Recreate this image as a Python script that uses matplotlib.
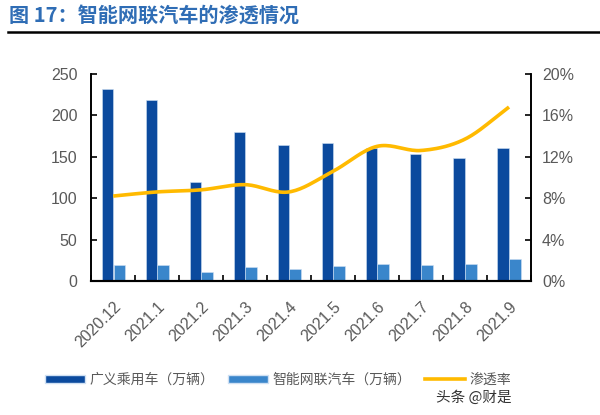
import numpy as np
import matplotlib
matplotlib.use("Agg")
import matplotlib.pyplot as plt
from matplotlib.lines import Line2D
from matplotlib.patches import Patch

plt.rcParams['font.family'] = ['Liberation Sans', 'Noto Sans CJK SC', 'DejaVu Sans']

categories = ["2020.12", "2021.1", "2021.2", "2021.3", "2021.4", "2021.5",
              "2021.6", "2021.7", "2021.8", "2021.9"]
passenger = [232, 219, 120, 180, 164, 166, 161, 153, 148, 161]
icv = [19, 19, 11, 17, 14, 18, 21, 19, 21, 27]
penetration = [8.2, 8.6, 8.8, 9.3, 8.6, 10.6, 13.0, 12.6, 13.7, 16.8]

dark = "#0b4a9e"
light = "#3a86cb"
yellow = "#ffba00"
gray = "#595959"

fig = plt.figure(figsize=(6.0, 4.15), dpi=100)
ax = fig.add_axes([0.152, 0.323, 0.733, 0.499])
ax2 = ax.twinx()

x = np.arange(len(categories))
w = 0.255
ax.bar(x - 0.135, passenger, w, color=dark, edgecolor="#cfe0f3", linewidth=0.4, zorder=2)
ax.bar(x + 0.135, icv, w, color=light, edgecolor="#cfe0f3", linewidth=0.4, zorder=2)

# smoothed line (Catmull-Rom through data points)
def catmull(xs, ys, n=20):
    xs = np.asarray(xs, float); ys = np.asarray(ys, float)
    px = np.concatenate([[2*xs[0]-xs[1]], xs, [2*xs[-1]-xs[-2]]])
    py = np.concatenate([[2*ys[0]-ys[1]], ys, [2*ys[-1]-ys[-2]]])
    ox, oy = [], []
    for i in range(1, len(px)-2):
        t = np.linspace(0, 1, n, endpoint=False)
        for arr, out in ((px, ox), (py, oy)):
            p0, p1, p2, p3 = arr[i-1], arr[i], arr[i+1], arr[i+2]
            out.extend(0.5*((2*p1) + (-p0+p2)*t + (2*p0-5*p1+4*p2-p3)*t**2 + (-p0+3*p1-3*p2+p3)*t**3))
    ox.append(xs[-1]); oy.append(ys[-1])
    return np.array(ox), np.array(oy)

sx, sy = catmull(x, penetration)
ax2.plot(sx, sy, color=yellow, linewidth=2.6, solid_capstyle='butt', zorder=3)

ax.set_xlim(-0.5, len(categories) - 0.5)
ax.set_ylim(0, 250)
ax.set_yticks([0, 50, 100, 150, 200, 250])
ax2.set_ylim(0, 20)
ax2.set_yticks([0, 4, 8, 12, 16, 20])
ax2.set_yticklabels([f"{v}%" for v in [0, 4, 8, 12, 16, 20]])

ax.set_xticks(x)
ax.set_xticklabels(categories, rotation=45, ha='right', rotation_mode='anchor')
ax.set_xticks(np.arange(-0.5, len(categories)), minor=True)
ax.tick_params(axis='x', which='major', length=0, labelsize=11.5, labelcolor=gray, pad=13)
ax.tick_params(axis='x', which='minor', length=4, direction='in', width=1.2, color='black')
ax.tick_params(axis='y', length=4, direction='in', width=1.2, labelsize=11.5, labelcolor=gray, pad=10)
ax2.tick_params(axis='y', length=4, direction='in', width=1.2, labelsize=11.5, labelcolor=gray, pad=8)

for a in (ax, ax2):
    a.spines['top'].set_visible(False)
    a.spines['left'].set_linewidth(1.2)
    a.spines['right'].set_linewidth(1.2)
    a.spines['bottom'].set_linewidth(1.5)
    a.set_facecolor('none')
ax.set_zorder(ax2.get_zorder() - 1)
ax2.patch.set_visible(False)

# Title and rule
fig.text(0.015, 0.962, "图 17：智能网联汽车的渗透情况", fontsize=14.5, fontweight='bold',
         color="#2f6db5", va='center', ha='left',
         family=['Noto Sans CJK SC', 'DejaVu Sans'])
fig.add_artist(Line2D([0.013, 1.0], [0.923, 0.923], color='black', linewidth=1.8))

handles = [Patch(facecolor=dark, edgecolor='#cfe0f3'),
           Patch(facecolor=light, edgecolor='#cfe0f3'),
           Line2D([0], [0], color=yellow, linewidth=2.6)]
labels = ["广义乘用车（万辆）", "智能网联汽车（万辆）", "渗透率"]
leg = fig.legend(handles, labels, loc='center', bbox_to_anchor=(0.463, 0.085), ncol=3,
                 frameon=False, handlelength=2.9, handleheight=0.55,
                 columnspacing=1.0, handletextpad=0.3,
                 prop={'family': ['Noto Sans CJK SC', 'DejaVu Sans'], 'size': 10})
for t in leg.get_texts():
    t.set_color(gray)

fig.text(0.853, 0.043, "头条 @财是", fontsize=10.5, color="#333333", ha='right', va='center',
         family=['Noto Sans CJK SC', 'DejaVu Sans'])

fig.savefig("out.png", dpi=100)
